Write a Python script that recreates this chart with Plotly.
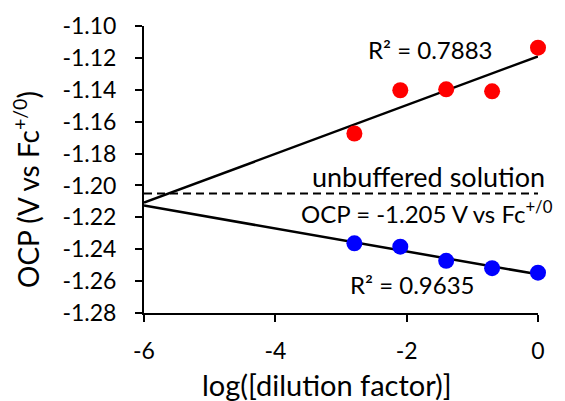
import numpy as np
import plotly.graph_objects as go

# Data
log_dilution = [-2.796, -2.097, -1.398, -0.699, 0.0]
ocp_red = [-1.1674, -1.1403, -1.1397, -1.1410, -1.1136]
ocp_blue = [-1.2363, -1.2384, -1.2473, -1.2519, -1.2547]
unbuffered_ocp = -1.205
trend_x = [-6, 0]

x_tickvals = [-6, -4, -2, 0]
x_ticktext = ["-6", "-4", "-2", "0"]
y_tickvals = [-1.28, -1.26, -1.24, -1.22, -1.20, -1.18, -1.16, -1.14, -1.12, -1.10]
y_ticktext = ["-1.28", "-1.26", "-1.24", "-1.22", "-1.20", "-1.18", "-1.16", "-1.14", "-1.12", "-1.10"]

FONT = "Lato"

def fit_line(x, y, xs):
    m, b = np.polyfit(x, y, 1)
    return [m * v + b for v in xs]

fig = go.Figure()

fig.add_trace(go.Scatter(x=trend_x, y=[unbuffered_ocp, unbuffered_ocp], mode="lines",
                         line=dict(color="black", width=2, dash="8px,5px"),
                         showlegend=False, hoverinfo="skip", cliponaxis=False))
fig.add_trace(go.Scatter(x=trend_x, y=fit_line(log_dilution, ocp_red, trend_x), mode="lines",
                         line=dict(color="black", width=2.5), showlegend=False, cliponaxis=False))
fig.add_trace(go.Scatter(x=trend_x, y=fit_line(log_dilution, ocp_blue, trend_x), mode="lines",
                         line=dict(color="black", width=2.5), showlegend=False, cliponaxis=False))
fig.add_trace(go.Scatter(x=log_dilution, y=ocp_red, mode="markers",
                         marker=dict(color="#ff0000", size=16, line=dict(width=0)),
                         showlegend=False, cliponaxis=False))
fig.add_trace(go.Scatter(x=log_dilution, y=ocp_blue, mode="markers",
                         marker=dict(color="#0000ff", size=16, line=dict(width=0)),
                         showlegend=False, cliponaxis=False))

L, R, T, B = 144, 27, 26, 88
W, H = 565, 401
pw, ph = W - L - R, H - T - B

def af(size):
    return dict(family=FONT, size=size, color="black")

annotations = [
    dict(x=-1.63, y=-1.1146, text="R² = 0.7883", showarrow=False, font=af(24),
         xanchor="center", yanchor="middle"),
    dict(x=-1.66, y=-1.1947, text="unbuffered solution", showarrow=False, font=af(27),
         xanchor="center", yanchor="middle"),
    dict(x=-1.69, y=-1.2165, text="OCP = -1.205 V vs Fc<sup>+/0</sup>", showarrow=False, font=af(24),
         xanchor="center", yanchor="middle"),
    dict(x=-1.91, y=-1.2624, text="R² = 0.9635", showarrow=False, font=af(24),
         xanchor="center", yanchor="middle"),
    dict(x=(327 - L) / pw, y=(H - B - 384) / ph, xref="paper", yref="paper",
         text="log([dilution factor)]", showarrow=False, font=af(29),
         xanchor="center", yanchor="middle"),
    dict(x=(26 - L) / pw, y=(H - B - 190) / ph, xref="paper", yref="paper",
         text="OCP (V vs Fc<sup>+/0</sup>)", showarrow=False, textangle=-90, font=af(28),
         xanchor="center", yanchor="middle"),
]

fig.update_layout(
    width=W, height=H,
    margin=dict(l=L, r=R, t=T, b=B, pad=0),
    paper_bgcolor="white", plot_bgcolor="white",
    font=dict(family=FONT, size=23, color="black"),
    annotations=annotations,
    xaxis=dict(range=[-6, 0], tickvals=x_tickvals, ticktext=x_ticktext,
               showgrid=False, zeroline=False, showline=True, linecolor="black", linewidth=2,
               ticks="outside", ticklen=7, tickwidth=2, tickcolor="black",
               ticklabelstandoff=9, tickfont=dict(family=FONT, size=23)),
    yaxis=dict(range=[-1.28, -1.10], tickvals=y_tickvals, ticktext=y_ticktext,
               showgrid=False, zeroline=False, showline=True, linecolor="black", linewidth=2,
               ticks="outside", ticklen=7, tickwidth=2, tickcolor="black",
               ticklabelstandoff=14, tickfont=dict(family=FONT, size=23)),
)

fig.write_html("out.html")
